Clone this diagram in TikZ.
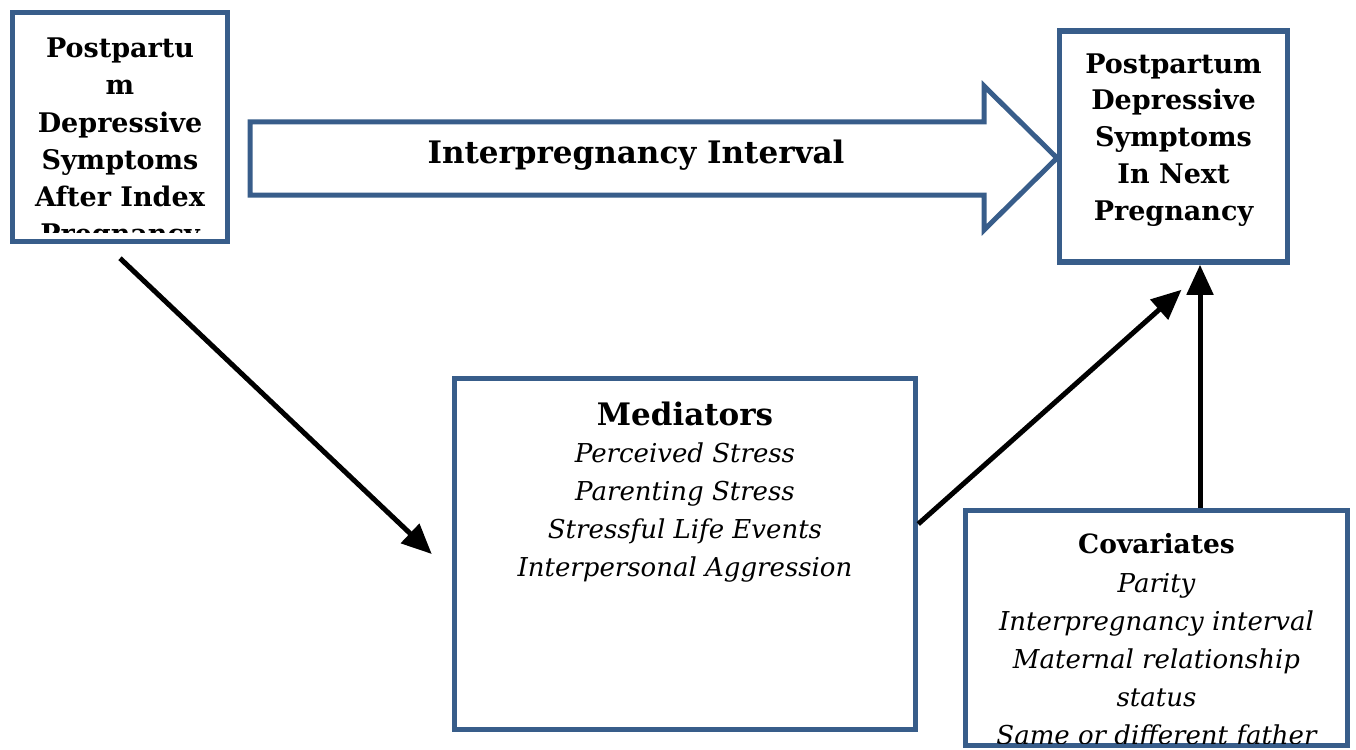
\documentclass[tikz,border=0pt]{standalone}
\usepackage{fontspec}
\setmainfont{DejaVu Serif}
\usetikzlibrary{
    positioning,    % relative placement of the texts
    arrows.meta     % Triangle tips
}
\definecolor{boxblue}{RGB}{56, 93, 138}

\begin{document}
\begin{tikzpicture}[
    x=1pt, y=-1pt, % pixel-like units, y grows downwards
    >={Triangle[length=30pt,width=26pt]},
    % Styles
    frame_box/.style={ % blue framed box
        rectangle,
        draw=boxblue,
        line width=5.5pt,
        inner sep=0pt
    },
    title_text/.style={ % bold text in the boxes
        align=center,
        inner sep=0pt,
        font=\bfseries\fontsize{27}{37.2}\selectfont
    },
    item_text/.style={ % italic lists
        align=center,
        inner sep=0pt,
        font=\itshape\fontsize{26}{38}\selectfont
    },
    arrow/.style={
        ->, line width=5pt, black
    }
]
\useasboundingbox (0,0) rectangle (1356,749);

% --- Boxes ---
\node[frame_box, minimum width=215pt, minimum height=229pt] (index) at (120,127) {};
\node[frame_box, minimum width=228pt, minimum height=231pt] (next) at (1173.5,146.5) {};
\node[frame_box, minimum width=461pt, minimum height=351pt] (med) at (685,554) {};
\node[frame_box, minimum width=382pt, minimum height=235pt] (cov) at (1156.5,628) {};

% --- Block arrow for the interval ---
\draw[boxblue, line width=5pt, line join=miter]
    (250,122) -- (984,122) -- (984,86) -- (1057,158)
    -- (984,230) -- (984,195) -- (250,195) -- cycle;
\node[font=\bfseries\fontsize{31}{40}\selectfont, anchor=base] (interval) at (636,163) {Interpregnancy Interval};

% --- Texts (clipped to the box interiors) ---
\begin{scope}
    \clip ([xshift=3pt,yshift=-3pt]index.north west) rectangle ([xshift=-3pt,yshift=11.5pt]index.south east);
    \node[title_text, below=28pt of index.north] (indextext)
        {Postpartu\\m\\Depressive\\Symptoms\\After Index\\Pregnancy};
\end{scope}
\node[title_text, font=\bfseries\fontsize{27}{36.8}\selectfont, below=25pt of next.north] (nexttext)
    {Postpartum\\Depressive\\Symptoms\\In Next\\Pregnancy};
\node[title_text, font=\bfseries\fontsize{31}{38}\selectfont, below=26pt of med.north] (medtitle) {Mediators};
\node[item_text, below=16pt of medtitle] (meditems)
    {Perceived Stress\\Parenting Stress\\Stressful Life Events\\Interpersonal Aggression};
\begin{scope}
    \clip ([xshift=3pt,yshift=-3pt]cov.north west) rectangle ([xshift=-3pt,yshift=5pt]cov.south east);
    \node[title_text, font=\bfseries\fontsize{26.5}{38}\selectfont, below=25pt of cov.north] (covtitle) {Covariates};
    \node[item_text, below=19pt of covtitle] (covitems)
        {Parity\\Interpregnancy interval\\Maternal relationship\\status\\Same or different father};
\end{scope}

% --- Arrows ---
\coordinate (medin) at ([xshift=-20pt]med.west);
\coordinate (medout) at ([yshift=30pt]med.east);
\coordinate (nextin) at ([xshift=8pt,yshift=-25pt]next.south);
\coordinate (covup) at ([xshift=26.5pt]next.south);
\draw[arrow] ([yshift=-14pt]index.south) -- (medin);
\draw[arrow] (medout) -- (nextin);
\draw[arrow] (covup |- cov.north) -- (covup);

\end{tikzpicture}
\end{document}
